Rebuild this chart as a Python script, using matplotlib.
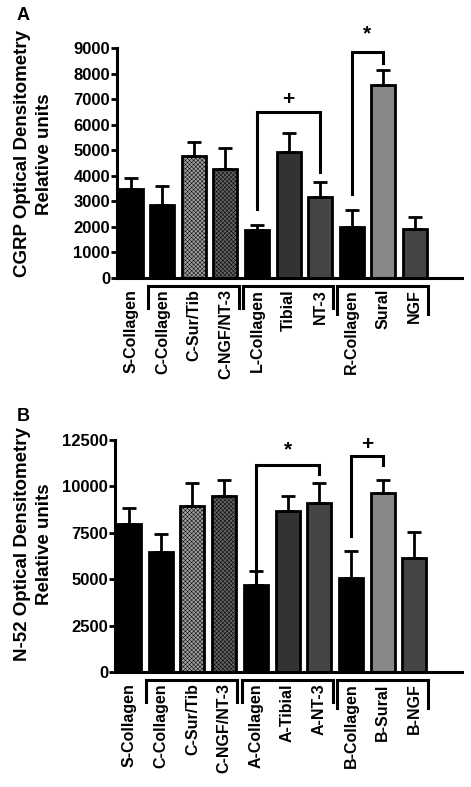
import matplotlib.pyplot as plt
import numpy as np
from matplotlib.transforms import blended_transform_factory

plt.rcParams['font.family'] = ['Liberation Sans', 'DejaVu Sans']
plt.rcParams['font.weight'] = 'bold'
plt.rcParams['hatch.linewidth'] = 0.35

# Panel A - CGRP
labels_a = ['S-Collagen', 'C-Collagen', 'C-Sur/Tib', 'C-NGF/NT-3', 'L-Collagen',
            'Tibial', 'NT-3', 'R-Collagen', 'Sural', 'NGF']
cgrp_mean = [3490, 2860, 4770, 4250, 1890, 4940, 3160, 2000, 7570, 1900]
cgrp_top = [3930, 3580, 5310, 5100, 2060, 5670, 3770, 2650, 8130, 2380]

# Panel B - N-52
labels_b = ['S-Collagen', 'C-Collagen', 'C-Sur/Tib', 'C-NGF/NT-3', 'A-Collagen',
            'A-Tibial', 'A-NT-3', 'B-Collagen', 'B-Sural', 'B-NGF']
n52_mean = [8000, 6490, 8960, 9500, 4680, 8700, 9130, 5050, 9650, 6170]
n52_top = [8850, 7430, 10160, 10350, 5450, 9480, 10170, 6530, 10320, 7570]

bar_colors = ['black', 'black', '#a0a0a0', '#646464', 'black',
              '#333333', '#444444', 'black', '#888888', '#444444']
bar_hatch = [None, None, 'xxxxxxxx', 'xxxxxxxx', None, None, None, None, None, None]

# groups under the axis (first, last index)
groups = [(1, 3), (4, 6), (7, 9)]

# significance brackets: (i, j, top, left bottom, right bottom, symbol, symbol y)
sig_a = [(4, 6, 6500, 2700, 4150, '+', 7000),
         (7, 8, 8850, 3300, 8400, '*', 9550)]
sig_b = [(4, 6, 11150, 3100, 10650, '*', 11950),
         (7, 8, 11650, 7350, 11150, '+', 12250)]


def draw_panel(ax, labels, means, tops, ymax, ystep, ylabel, sig):
    x = np.arange(len(labels))
    means = np.array(means)
    err = np.array(tops) - means
    for i in range(len(x)):
        ax.bar(x[i], means[i], width=0.76, color=bar_colors[i], edgecolor='black',
               linewidth=2, hatch=bar_hatch[i], zorder=2)
    ax.errorbar(x, means, yerr=[np.zeros_like(err), err], fmt='none', ecolor='black',
                elinewidth=2, capsize=5, capthick=2, zorder=3)

    ax.set_xlim(-0.44, 10.5)
    ax.set_ylim(0, ymax)
    ax.set_yticks(np.arange(0, ymax + 1, ystep))
    ax.set_xticks(x)
    ax.set_xticklabels(labels, rotation=90, fontsize=11.5, fontweight='bold')
    ax.tick_params(axis='x', length=0, pad=8)
    ax.tick_params(axis='y', length=4, width=2, labelsize=12, pad=1)
    for lab in ax.get_yticklabels():
        lab.set_fontweight('bold')
    ax.spines['top'].set_visible(False)
    ax.spines['right'].set_visible(False)
    ax.spines['left'].set_linewidth(2.2)
    ax.spines['bottom'].set_linewidth(2.2)

    ax.set_ylabel(ylabel, fontsize=13.5, fontweight='bold', multialignment='center',
                  linespacing=1.35)

    # group brackets below the x axis
    trans = blended_transform_factory(ax.transData, ax.transAxes)
    for k, (a, b) in enumerate(groups):
        x0, x1 = a - 0.45, b + 0.42
        yb = -0.155 if k == 2 else -0.13
        ax.plot([x0, x0, x1, x1], [yb, -0.035, -0.035, yb], color='black',
                linewidth=2.2, transform=trans, clip_on=False,
                solid_joinstyle='miter')

    # significance brackets
    for i, j, top, lb, rb, sym, sy in sig:
        ax.plot([x[i], x[i], x[j], x[j]], [lb, top, top, rb], color='black',
                linewidth=2.2, clip_on=False, solid_joinstyle='miter', zorder=4)
        ax.text((x[i] + x[j]) / 2, sy, sym, ha='center', va='center',
                fontsize=15, fontweight='bold', clip_on=False)


fig = plt.figure(figsize=(4.71, 7.87), dpi=100)
ax1 = fig.add_axes([0.2484, 0.6468, 0.7325, 0.2922])
ax2 = fig.add_axes([0.2442, 0.1461, 0.7367, 0.2948])

draw_panel(ax1, labels_a, cgrp_mean, cgrp_top, 9000, 1000,
           'CGRP Optical Densitometry\nRelative units', sig_a)
draw_panel(ax2, labels_b, n52_mean, n52_top, 12500, 2500,
           'N-52 Optical Densitometry\nRelative units', sig_b)

ax1.yaxis.set_label_coords(-0.186, 0.54)
ax2.yaxis.set_label_coords(-0.179, 0.55)

fig.text(0.036, 0.991, 'A', fontsize=13, fontweight='bold', ha='left', va='top')
fig.text(0.036, 0.482, 'B', fontsize=13, fontweight='bold', ha='left', va='top')

fig.savefig('out.png', dpi=100)
